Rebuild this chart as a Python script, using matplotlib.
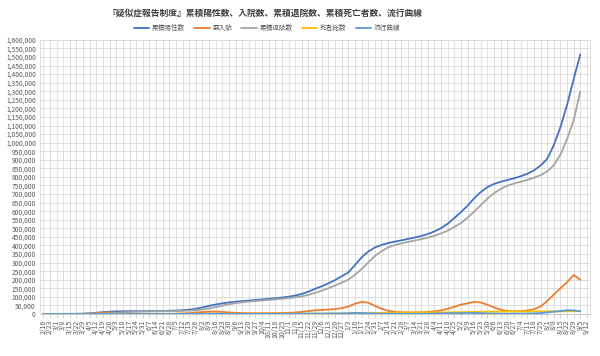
import matplotlib
matplotlib.use('Agg')
import matplotlib.pyplot as plt
import pandas as pd

plt.rcParams['font.family'] = ['Noto Sans CJK JP', 'DejaVu Sans']

# weekly points, Sundays from 2020-02-16 to 2021-09-05
start_date = '2020-02-16'
n_labels = 83  # axis runs to 2021-09-12

positives = [60, 130, 250, 460, 800, 1100, 1900, 3600, 7300, 10800,
             13400, 15100, 15900, 16400, 16700, 17000, 17300, 17600, 18000, 18700,
             20000, 22000, 25500, 30500, 38500, 47500, 55500, 62000, 67500, 71500,
             75000, 78500, 81500, 85000, 88500, 92000, 96000, 101000, 107500, 117000,
             131000, 147000, 162000, 179000, 198000, 220000, 242000, 285000, 330000, 364000,
             388000, 403000, 414000, 422000, 430000, 438000, 446000, 455000, 467000, 482000,
             501000, 527000, 560000, 595000, 632000, 676000, 712000, 741000, 759000, 772000,
             782000, 792000, 804000, 818000, 838000, 866000, 905000, 985000, 1090000, 1220000,
             1370000, 1515000]

inpatients = [40, 100, 200, 350, 550, 700, 1300, 2800, 5800, 8200,
              8800, 7800, 5800, 3900, 2300, 1400, 950, 800, 750, 1050,
              1800, 3000, 5200, 8000, 11200, 13600, 14000, 12000, 9200, 6800,
              5400, 4700, 4400, 4600, 4800, 5000, 5400, 6600, 8800, 12300,
              17000, 21500, 23500, 26000, 29000, 34000, 43000, 60000, 71000, 66000,
              48000, 31000, 18500, 12500, 10200, 9600, 9200, 9700, 12200, 15800,
              21500, 30500, 42000, 55000, 62000, 71000, 67000, 54000, 38000, 25500,
              17500, 15500, 17000, 20500, 28000, 43000, 75000, 113000, 150000, 185000,
              228000, 200000]

discharged = [20, 30, 45, 100, 230, 360, 540, 720, 1370, 2360,
              4230, 6790, 9480, 11750, 13560, 14710, 15430, 15870, 16300, 16680,
              17220, 18020, 19310, 21500, 26280, 32840, 40380, 48800, 57000, 63320,
              68150, 72300, 75540, 78800, 82050, 85310, 88880, 92640, 96890, 102820,
              112010, 123370, 136170, 150450, 166170, 182840, 200500, 228000, 262000, 300000,
              338000, 366000, 388600, 402100, 412000, 420300, 428400, 436600, 445800, 457000,
              470100, 486800, 507900, 531000, 562000, 598000, 636000, 673700, 705000, 730000,
              749000, 761750, 772120, 782500, 794920, 810000, 832000, 868000, 930000, 1020000,
              1130000, 1298700]

deaths = [1, 2, 6, 9, 24, 43, 56, 80, 130, 240,
          370, 510, 620, 750, 840, 890, 920, 935, 955, 972,
          982, 985, 990, 1000, 1020, 1060, 1120, 1200, 1300, 1380,
          1450, 1500, 1560, 1600, 1650, 1690, 1720, 1760, 1810, 1880,
          1990, 2130, 2330, 2550, 2830, 3160, 3500, 3950, 4450, 5050,
          5700, 6300, 6900, 7400, 7800, 8100, 8400, 8700, 9000, 9200,
          9400, 9700, 10100, 10500, 11100, 11800, 12500, 13300, 13900, 14300,
          14500, 14750, 14880, 15000, 15080, 15150, 15230, 15360, 15500, 15700,
          15950, 16300]

new_cases = [5, 10, 20, 30, 45, 50, 110, 250, 500, 550,
             350, 200, 100, 40, 30, 40, 40, 50, 60, 110,
             200, 300, 550, 800, 1200, 1300, 1100, 900, 650, 550,
             500, 450, 450, 500, 500, 550, 650, 750, 1000, 1500,
             2200, 2300, 2200, 2600, 2900, 3200, 4500, 6500, 5500, 4200,
             2800, 2000, 1400, 1200, 1000, 1100, 1200, 1400, 1900, 2500,
             3200, 4300, 5000, 5000, 6200, 5800, 4700, 3300, 2300, 1700,
             1400, 1600, 1900, 2400, 3700, 5000, 9000, 13500, 17000, 22000,
             21000, 16000]

series_names = ['累積陽性数', '要入院', '累積退院数', '死者総数', '流行曲線']
series_colors = ['#4472C4', '#ED7D31', '#A5A5A5', '#FFC000', '#5B9BD5']

dates = pd.date_range(start_date, periods=n_labels, freq='7D')
tick_labels = [f'{d.month}/{d.day}' for d in dates]

fig = plt.figure(figsize=(6, 3.56), dpi=100)
ax = fig.add_axes([0.0667, 0.118, 0.917, 0.770])

x = list(range(len(positives)))
for vals, name, col in zip([positives, inpatients, discharged, deaths, new_cases],
                           series_names, series_colors):
    ax.plot(x, vals, color=col, lw=1.3, label=name, solid_capstyle='round')

ax.set_xlim(-0.5, n_labels - 0.5)
ax.set_ylim(0, 1600000)
ax.set_yticks(range(0, 1600001, 50000))
ax.set_yticklabels([f'{v:,}' for v in range(0, 1600001, 50000)])
ax.set_xticks(range(n_labels))
ax.set_xticklabels(tick_labels, rotation=90, va='top')
ax.tick_params(axis='y', length=0, labelsize=4.8, colors='#595959', pad=3)
ax.tick_params(axis='x', length=3, width=0.5, color='#BFBFBF', labelsize=5,
               labelcolor='#595959', pad=1)
ax.grid(True, color='#D9D9D9', lw=0.6)
ax.set_axisbelow(True)
for side in ['top', 'right', 'left']:
    ax.spines[side].set_color('#D9D9D9')
    ax.spines[side].set_linewidth(0.6)
ax.spines['bottom'].set_color('#BFBFBF')
ax.spines['bottom'].set_linewidth(0.6)

fig.text(0.442, 0.963, '『疑似症報告制度』累積陽性数、入院数、累積退院数、累積死亡者数、流行曲線',
         ha='center', va='center', fontsize=6.3, fontweight='bold', color='#404040')
fig.legend(loc='center', bbox_to_anchor=(0.445, 0.921), ncol=5, frameon=False,
           fontsize=4.8, handlelength=2.3, handletextpad=0.4, columnspacing=1.4,
           labelcolor='#595959')

fig.savefig('out.png', dpi=100)
